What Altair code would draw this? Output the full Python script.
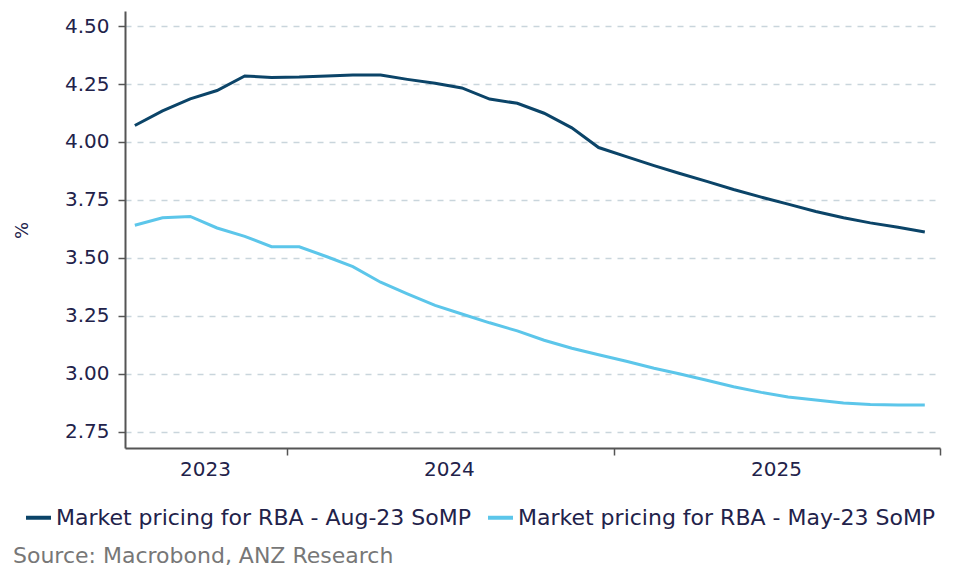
import altair as alt
import pandas as pd

months = pd.date_range("2023-07-01", periods=30, freq="MS") + pd.Timedelta(days=14)
month_labels = [d.strftime("%Y-%m-%d") for d in months]

aug23 = [4.071, 4.134, 4.186, 4.222, 4.285, 4.278,
         4.280, 4.285, 4.289, 4.289, 4.270, 4.253, 4.233, 4.185, 4.167, 4.124, 4.061, 3.976,
         3.937, 3.898, 3.865, 3.830, 3.795, 3.762, 3.732, 3.700, 3.673, 3.651, 3.632, 3.612]
may23 = [3.641, 3.673, 3.679, 3.629, 3.593, 3.548,
         3.548, 3.505, 3.462, 3.395, 3.345, 3.295, 3.258, 3.220, 3.185, 3.145, 3.110, 3.082,
         3.054, 3.024, 3.000, 2.972, 2.944, 2.920, 2.900, 2.887, 2.874, 2.868, 2.865, 2.866]

series_names = ["Market pricing for RBA - Aug-23 SoMP", "Market pricing for RBA - May-23 SoMP"]
series_colors = ["#0b4468", "#5cc6ea"]

year_labels = ["2023", "2024", "2025"]
year_label_dates = ["2023-10-02", "2024-07-01", "2025-07-02"]
y_ticks = [2.75, 3.00, 3.25, 3.50, 3.75, 4.00, 4.25, 4.50]
source_text = "Source: Macrobond, ANZ Research"

FONT = "DejaVu Sans"
TXT = "#22224a"

rows = []
for name, vals in zip(series_names, [aug23, may23]):
    for d, v in zip(month_labels, vals):
        rows.append({"date": d, "value": v, "series": name})
df = pd.DataFrame(rows)

xscale = alt.Scale(type="utc",
                   domain=[alt.DateTime(year=2023, month=7, date=4, utc=True),
                           alt.DateTime(year=2026, month=1, date=1, utc=True)])

lines = alt.Chart(df).mark_line(strokeWidth=3).encode(
    x=alt.X("date:T", scale=xscale, title=None,
            axis=alt.Axis(values=[alt.DateTime(year=y, month=1, date=1, utc=True) for y in (2024, 2025, 2026)],
                          labels=False, grid=False, ticks=True, tickSize=7, tickWidth=1.5,
                          tickColor="#555555", domainColor="#555555", domainWidth=2)),
    y=alt.Y("value:Q", scale=alt.Scale(domain=[2.68, 4.565], nice=False, zero=False),
            axis=alt.Axis(values=y_ticks, format=".2f", title="%", titleFont=FONT, titleFontSize=18,
                          titleFontWeight="normal", titleColor=TXT, titleAngle=-90,
                          titleX=-103, titleY=219, titleAlign="center", titleBaseline="middle",
                          labelFont=FONT, labelFontSize=20, labelColor=TXT, labelPadding=9,
                          tickSize=7, tickColor="#555555", tickWidth=1.5,
                          domainColor="#555555", domainWidth=2,
                          grid=True, gridDash=[6, 6], gridColor="#c9d5dc", gridWidth=1.5)),
    color=alt.Color("series:N", scale=alt.Scale(domain=series_names, range=series_colors),
                    legend=alt.Legend(title=None, orient="none", legendX=-101, legendY=492,
                                      direction="horizontal", symbolType="stroke",
                                      symbolStrokeWidth=4, symbolSize=625, labelFont=FONT,
                                      labelFontSize=22, labelColor=TXT, labelLimit=0,
                                      labelOffset=3, columnPadding=8, padding=0))
)

yl = pd.DataFrame({"d": year_label_dates, "t": year_labels})
years = alt.Chart(yl).mark_text(font=FONT, fontSize=20, color=TXT, baseline="middle", align="center").encode(
    x=alt.X("d:T", scale=xscale), y=alt.value(459), text="t:N")

src = alt.Chart(pd.DataFrame({"t": [source_text]})).mark_text(
    font=FONT, fontSize=22, color="#777777", align="left", baseline="middle").encode(
    x=alt.value(-112), y=alt.value(545), text="t:N")

chart = alt.layer(lines, years, src).properties(
    width=815, height=437,
    autosize=alt.AutoSizeParams(type="none"),
    padding={"left": 117, "top": 3, "right": 4, "bottom": 120},
).configure_view(stroke=None)

chart.save("out.html", embed_options={"renderer": "svg", "actions": False})
